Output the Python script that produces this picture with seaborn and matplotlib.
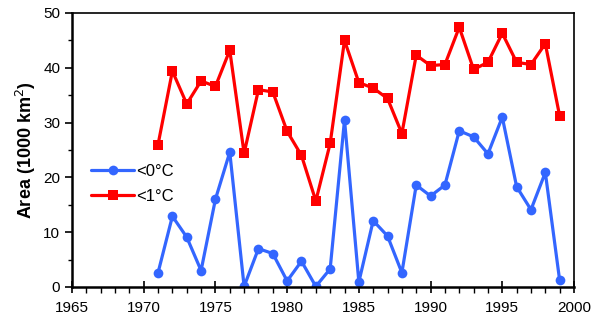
import seaborn as sns
import matplotlib.pyplot as plt
import pandas as pd
from matplotlib.ticker import MultipleLocator

years = list(range(1971, 2000))
below0 = [2.6, 12.9, 9.1, 3.0, 16.0, 24.6, 0.1, 7.0, 6.1, 1.1, 4.7, 0.1, 3.3, 30.5, 0.9,
          12.1, 9.3, 2.6, 18.6, 16.6, 18.6, 28.5, 27.4, 24.3, 31.0, 18.3, 14.1, 20.9, 1.2]
below1 = [26.0, 39.4, 33.4, 37.6, 36.6, 43.2, 24.4, 36.0, 35.6, 28.4, 24.0, 15.7, 26.2, 45.0, 37.3,
          36.3, 34.4, 28.0, 42.3, 40.4, 40.6, 47.4, 39.7, 41.0, 46.3, 41.0, 40.6, 44.4, 31.2]

df = pd.DataFrame({"Year": years * 2,
                   "Area": below0 + below1,
                   "Serie": ["<0°C"] * len(years) + ["<1°C"] * len(years)})

sns.set_style("ticks", {"axes.edgecolor": "black", "xtick.color": "black",
                        "ytick.color": "black", "text.color": "black",
                        "axes.labelcolor": "black"})
plt.rcParams['font.family'] = ['Liberation Sans', 'DejaVu Sans']

fig = plt.figure(figsize=(5.92, 3.25), dpi=100)
ax = fig.add_axes([0.1216, 0.117, 0.848, 0.843])

sns.lineplot(data=df, x="Year", y="Area", hue="Serie", style="Serie",
             palette={"<0°C": "#3366FF", "<1°C": "#FF0000"},
             markers={"<0°C": "o", "<1°C": "s"}, dashes=False,
             markersize=7, linewidth=2.3, markeredgewidth=0, ax=ax)

ax.set_xlim(1965, 2000)
ax.set_ylim(0, 50)
ax.xaxis.set_major_locator(MultipleLocator(5))
ax.xaxis.set_minor_locator(MultipleLocator(1))
ax.yaxis.set_major_locator(MultipleLocator(10))
ax.yaxis.set_minor_locator(MultipleLocator(5))
ax.tick_params(axis="x", which="major", direction="inout", length=8, width=1.2, labelsize=11, pad=6)
ax.tick_params(axis="x", which="minor", direction="out", length=4, width=1)
ax.tick_params(axis="y", which="major", direction="out", length=5, width=1.2, labelsize=11)
ax.tick_params(axis="y", which="minor", direction="out", length=3, width=1)
for s in ax.spines.values():
    s.set_linewidth(1.2)
ax.spines["left"].set_linewidth(1.8)
ax.spines["bottom"].set_linewidth(1.8)

ax.set_xlabel("")
ax.set_ylabel("Area (1000 km$^2$)", fontsize=13, fontweight="bold")

ax.legend(title=None, loc="center left", bbox_to_anchor=(0.008, 0.375), frameon=False,
          fontsize=12, handlelength=2.6, handletextpad=0.1, labelspacing=0.6)

fig.savefig("out.png", dpi=100)
